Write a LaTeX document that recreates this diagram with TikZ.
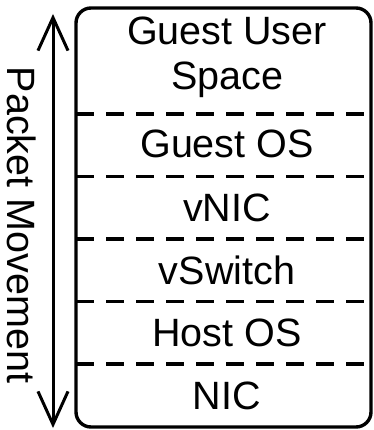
\documentclass[tikz,border=0pt]{standalone}
\usepackage{fontspec}
\setmainfont{Liberation Sans}
\usetikzlibrary{arrows.meta}
\begin{document}
\begin{tikzpicture}[x=1pt,y=-1pt,
  layer/.style={font=\fontsize{39.5}{45}\selectfont, align=center, inner sep=0pt},
  sep/.style={line width=3.2pt, dash pattern=on 18pt off 12pt},
  frame/.style={line width=3.4pt, rounded corners=15pt}]
\useasboundingbox (0,0) rectangle (373,430);
% stack outline
\draw[frame] (76,8) rectangle (371,427);
% layer separators
\foreach \yy in {114,176.5,239,301.5,364}
  \draw[sep] (76,\yy) -- (371,\yy);
% layer labels
\node[layer] (gus) at (227,57) {Guest User\\Space};
\node[layer] (gos) at (227,144) {Guest OS};
\node[layer] (vnic) at (227,208) {vNIC};
\node[layer] (vsw) at (227,270) {vSwitch};
\node[layer] (hos) at (227,333) {Host OS};
\node[layer] (nic) at (227,396) {NIC};
% packet direction arrow
\coordinate (top) at (53,14);
\coordinate (bot) at (53,428);
\draw[line width=3pt, {Straight Barb[length=33pt,width=30pt]}-{Straight Barb[length=33pt,width=30pt]}] (top) -- (bot);
\node[layer, rotate=-90] (pm) at (22,225) {Packet Movement};
\end{tikzpicture}
\end{document}
